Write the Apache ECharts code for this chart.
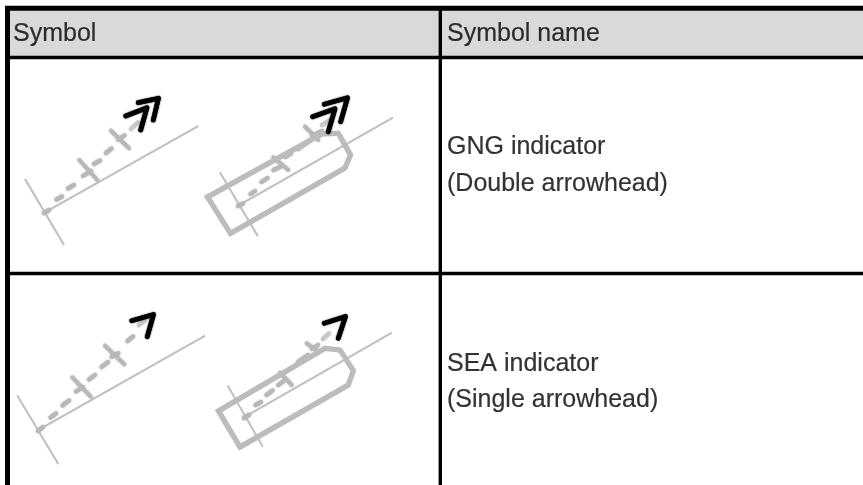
<!DOCTYPE html>
<html>
<head>
<meta charset="utf-8">
<title>Symbol table</title>
<style>
  html, body { margin: 0; padding: 0; background: #fff; }
  #main { width: 863px; height: 485px; }
</style>
<script src="https://cdn.jsdelivr.net/npm/echarts@6/dist/echarts.min.js"></script>
</head>
<body>
<div id="main"></div>
<script>
// table text
const cellTexts = [
  ['Symbol', 13, 40],
  ['Symbol name', 447, 40],
  ['GNG indicator', 447, 153],
  ['(Double arrowhead)', 447, 190],
  ['SEA indicator', 447, 370],
  ['(Single arrowhead)', 447, 406]
]

// table rules
const heavyRules = [
  [[5, 8.3], [863, 8.3]],
  [[7.5, 6], [7.5, 485]]
]
const thinRules = [
  [[10, 57.5], [863, 57.5]],
  [[10, 273.5], [863, 273.5]],
  [[440.3, 10], [440.3, 485]]
]
const headerBand = [[10, 10], [863, 56]]

// reference lines of the four drawings
const axisLines = [
  [[25, 179], [64, 245]],
  [[46, 211.7], [198.3, 126]],
  [[220, 172.3], [257.7, 236]],
  [[239.3, 205], [392.7, 117.7]],
  [[17.3, 395.7], [58.3, 464]],
  [[38.3, 430], [205, 335.7]],
  [[227.7, 385.7], [262.7, 446.7]],
  [[245, 416.7], [391.7, 332.7]]
]

// ship outlines
const boxes = [
  [[207.5, 197], [321.7, 134], [338.3, 133.3], [350.5, 155], [345, 168], [230.5, 233.5], [207.5, 197]],
  [[218.5, 411], [325, 348.3], [340, 350], [353.3, 370.7], [348.3, 385], [240, 447], [218.5, 411]]
]

// dashed track with its cross ticks
const trackDashes = [
  [[44, 213], [49, 210]], [[56.5, 199.5], [62, 196.5]], [[68, 188.5], [74, 185]], [[83, 176], [91, 171]],
  [[94, 164], [100, 160.5]], [[106, 153], [111.5, 148.5]], [[118, 139.5], [124.5, 135.5]],
  [[238, 206], [243, 203.5]], [[250.5, 194], [255, 191]], [[261.5, 182], [267.5, 178]], [[273.5, 170], [280, 167]],
  [[285.5, 157], [291, 153.5]], [[298, 149], [308, 142]], [[312, 136], [322, 131]],
  [[38, 431], [43, 427]], [[50.5, 417.5], [56, 413.5]], [[62.5, 405.5], [69, 400.5]], [[76, 391.5], [83, 387]],
  [[89, 379.5], [95, 375]], [[101.5, 367], [108, 362]], [[111.7, 356.7], [118.3, 353.3]], [[127.5, 341], [133, 336.5]],
  [[244, 418], [249, 415]], [[255.5, 405], [261, 402]], [[266.5, 395], [272.5, 390.5]], [[278.3, 385], [285, 380]],
  [[298, 362], [308, 355]], [[312, 349], [318, 345]]
]
const fadedDashes = [
  [[131, 129], [138, 122.5]],
  [[322, 125], [330, 120]],
  [[139, 325], [145, 320]],
  [[323, 339], [329, 333.5]]
]
const crossTicks = [
  [[79.3, 160], [97.3, 180]],
  [[111, 130.7], [129, 148.3]],
  [[273.3, 157.3], [288.3, 170]],
  [[305, 126.7], [318.3, 140]],
  [[72.3, 377.3], [90.7, 396.7]],
  [[105, 345.7], [124.3, 364.3]],
  [[280, 372.7], [291.7, 385]],
  [[306.7, 343.3], [318.3, 351.7]]
]

// arrowheads, double on the GNG row and single on the SEA row
const arrowHeads = [
  [[138.3, 102.7], [158.5, 98.3], [153.3, 120]],
  [[125.7, 116], [147, 107.7], [140.7, 130]],
  [[324.3, 104.3], [347.5, 97.8], [340.7, 121.7]],
  [[312.7, 116.7], [335, 108.8], [328.3, 131.7]],
  [[131.7, 320.7], [153.5, 314.5], [147.3, 336.7]],
  [[324.3, 323.3], [345.5, 316.5], [338.3, 338.3]]
]

function joinPaths(paths) {
  const out = []
  paths.forEach((p, i) => {
    if (i > 0) out.push(['-', '-'])
    p.forEach(pt => out.push(pt))
  })
  return out
}

function pathSeries(paths, color, width, cap, blur, join) {
  return {
    type: 'line',
    data: joinPaths(paths),
    showSymbol: false,
    silent: true,
    clip: false,
    animation: false,
    lineStyle: {
      color: color,
      width: width,
      cap: cap,
      join: join || 'round',
      shadowColor: color,
      shadowBlur: blur
    }
  }
}

const chart = echarts.init(document.getElementById('main'), null, { renderer: 'canvas' })
chart.setOption({
  animation: false,
  grid: { left: 0, right: 0, top: 0, bottom: 0 },
  xAxis: { type: 'value', min: 0, max: 863, show: false },
  yAxis: { type: 'value', min: 0, max: 485, inverse: true, show: false },
  series: [
    {
      type: 'scatter',
      symbolSize: 0,
      silent: true,
      data: cellTexts.map(c => ({ value: [c[1], c[2]], name: c[0] })),
      markArea: {
        silent: true,
        itemStyle: { color: '#d9d9d9' },
        data: [[{ coord: headerBand[0] }, { coord: headerBand[1] }]]
      },
      label: {
        show: true,
        position: [0, -21],
        formatter: p => p.name,
        fontFamily: 'Liberation Sans',
        fontSize: 25,
        color: '#000',
        textBorderColor: '#000',
        textBorderWidth: 0.2,
        verticalAlign: 'top',
        lineHeight: 30
      },
      z: 5
    },
    pathSeries(axisLines, '#c0c0c0', 1.6, 'butt', 1),
    pathSeries(fadedDashes, '#c8c8c8', 4.4, 'round', 2),
    pathSeries(trackDashes, '#b8b8b8', 4.4, 'round', 2),
    pathSeries(crossTicks, '#b8b8b8', 4, 'round', 2),
    pathSeries(boxes, '#bcbcbc', 5, 'square', 1, 'miter'),
    pathSeries(arrowHeads, '#000', 4.8, 'round', 1.5),
    pathSeries(heavyRules, '#000', 5, 'butt', 0),
    pathSeries(thinRules, '#000', 3.4, 'butt', 0)
  ]
})
</script>
</body>
</html>
